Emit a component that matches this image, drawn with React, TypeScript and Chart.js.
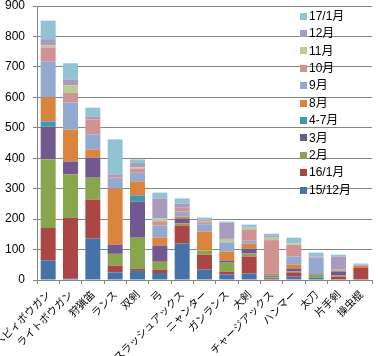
import React, { useEffect, useRef } from "react";
import { Chart, registerables } from "chart.js";

Chart.register(...registerables);

const categories = [
  "ヘビィボウガン", "ライトボウガン", "狩猟笛", "ランス", "双剣", "弓",
  "スラッシュアックス", "ニャンター", "ガンランス", "大剣", "チャージアックス",
  "ハンマー", "太刀", "片手剣", "操虫棍",
];

const seriesLabels = ["15/12月", "16/1月", "2月", "3月", "4-7月", "8月", "9月", "10月", "11月", "12月", "17/1月"];
const seriesColors = ["#4572A7", "#AA4643", "#89A54E", "#71588F", "#4198AF", "#DB843D", "#93A9CF", "#D19392", "#B9CD96", "#A99BBD", "#92C3D5"];

const s1512 = [64, 4, 136, 25, 30, 23, 120, 34, 18, 21, 0, 11, 8, 0, 0];
const s1601 = [107, 200, 128, 22, 7, 11, 59, 49, 9, 56, 6, 14, 0, 11, 41];
const s02 = [225, 143, 72, 39, 102, 26, 7, 14, 30, 10, 3, 3, 10, 4, 0];
const s03 = [108, 42, 66, 30, 119, 53, 16, 0, 7, 16, 0, 10, 3, 13, 0];
const s0407 = [17, 0, 0, 0, 20, 0, 0, 0, 0, 0, 6, 0, 0, 0, 0];
const s08 = [79, 105, 26, 184, 46, 26, 6, 62, 29, 17, 5, 13, 0, 3, 6];
const s09 = [118, 89, 50, 32, 28, 40, 17, 24, 30, 9, 0, 26, 53, 3, 4];
const s10 = [46, 32, 49, 5, 14, 14, 14, 7, 3, 37, 111, 39, 3, 0, 0];
const s11 = [7, 24, 0, 0, 4, 9, 0, 4, 9, 6, 8, 4, 0, 0, 0];
const s12 = [20, 20, 10, 10, 14, 66, 12, 3, 53, 0, 5, 0, 0, 43, 0];
const s1701 = [61, 53, 29, 115, 12, 19, 17, 8, 4, 10, 8, 19, 13, 6, 3];

const seriesValues = [s1512, s1601, s02, s03, s0407, s08, s09, s10, s11, s12, s1701];

const yMin = 0;
const yMax = 900;
const yStep = 50;

const FONT = "'Liberation Sans', 'Noto Sans CJK JP', sans-serif";
const JP_FONT = "'Noto Sans CJK JP', 'Liberation Sans', sans-serif";

const legendPlugin = {
  id: "sideLegend",
  afterDraw(chart: any) {
    const ctx = chart.ctx;
    const ds = chart.data.datasets;
    ctx.save();
    ctx.font = "12px " + FONT;
    ctx.textBaseline = "middle";
    ctx.textAlign = "left";
    for (let i = ds.length - 1, row = 0; i >= 0; i--, row++) {
      const y = 16 + row * 17.4;
      ctx.fillStyle = ds[i].backgroundColor;
      ctx.fillRect(300, Math.round(y - 3.5), 7, 7);
      ctx.fillStyle = "#000";
      ctx.fillText(ds[i].label, 309, y + 0.5);
    }
    ctx.restore();
  },
};

export default function App() {
  const ref = useRef<HTMLCanvasElement | null>(null);

  useEffect(() => {
    if (!ref.current) return;
    const chart = new Chart(ref.current, {
      type: "bar",
      data: {
        labels: categories,
        datasets: seriesLabels.map((label, i) => ({
          label,
          data: seriesValues[i],
          backgroundColor: seriesColors[i],
          borderWidth: 0,
          barPercentage: 0.67,
          categoryPercentage: 1,
        })),
      },
      options: {
        animation: false,
        responsive: true,
        maintainAspectRatio: false,
        layout: { padding: { top: 6, right: 6, left: 0, bottom: 0 } },
        plugins: {
          legend: { display: false },
          tooltip: { enabled: false },
        },
        scales: {
          x: {
            stacked: true,
            grid: {
              offset: true,
              drawOnChartArea: false,
              drawTicks: true,
              tickLength: 4,
              color: "#868686",
            },
            border: { color: "#868686" },
            ticks: {
              autoSkip: false,
              minRotation: 45,
              maxRotation: 45,
              color: "#000",
              padding: 4,
              font: { size: 10.5, family: JP_FONT },
            },
            afterFit(scale: any) {
              scale.height = 76;
              scale.paddingLeft = 0;
              scale.paddingRight = 0;
            },
          },
          y: {
            stacked: true,
            min: yMin,
            max: yMax,
            grid: { color: "#868686", tickLength: 4 },
            border: { color: "#868686" },
            ticks: {
              stepSize: yStep,
              color: "#000",
              padding: 8,
              font: { size: 12, family: FONT },
            },
            afterFit(scale: any) {
              scale.width = 37;
              scale.paddingTop = 0;
              scale.paddingBottom = 0;
            },
          },
        },
      },
      plugins: [legendPlugin],
    });
    return () => chart.destroy();
  }, []);

  return (
    <div style={{ position: "fixed", left: 0, top: 0, width: 378, height: 356, background: "#fff" }}>
      <canvas ref={ref} />
    </div>
  );
}
